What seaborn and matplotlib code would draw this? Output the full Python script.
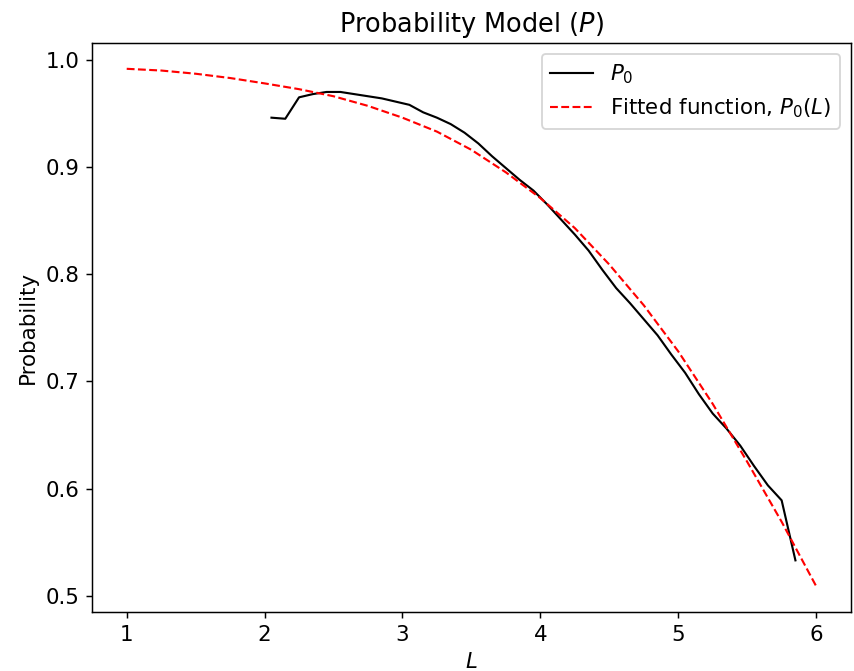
import numpy as np
import pandas as pd
import matplotlib
matplotlib.use("Agg")
import matplotlib.pyplot as plt
import seaborn as sns

L_obs = [2.05, 2.15, 2.25, 2.35, 2.45, 2.55, 2.65, 2.75, 2.85, 2.95,
         3.05, 3.15, 3.25, 3.35, 3.45, 3.55, 3.65, 3.75, 3.85, 3.95,
         4.05, 4.15, 4.25, 4.35, 4.45, 4.55, 4.65, 4.75, 4.85, 4.95,
         5.05, 5.15, 5.25, 5.35, 5.45, 5.55, 5.65, 5.75, 5.85]
P_obs = [0.946, 0.945, 0.965, 0.968, 0.970, 0.970, 0.968, 0.966, 0.964, 0.961,
         0.958, 0.951, 0.946, 0.940, 0.932, 0.922, 0.910, 0.899, 0.888, 0.878,
         0.865, 0.851, 0.837, 0.822, 0.804, 0.787, 0.773, 0.758, 0.743, 0.725,
         0.708, 0.688, 0.670, 0.656, 0.640, 0.621, 0.603, 0.589, 0.533]

# fitted curve samples
L_fit = [1.00, 1.25, 1.50, 1.75, 2.00, 2.25, 2.50, 2.75, 3.00, 3.25, 3.50,
         3.75, 4.00, 4.25, 4.50, 4.75, 5.00, 5.25, 5.50, 5.75, 6.00]
P_fit = [0.9916, 0.990, 0.987, 0.983, 0.978, 0.9726, 0.966, 0.957, 0.946, 0.933,
         0.916, 0.895, 0.871, 0.843, 0.809, 0.771, 0.728, 0.679, 0.625, 0.569, 0.509]

obs = pd.DataFrame({"L": L_obs, "P": P_obs})
fit = pd.DataFrame({"L": L_fit, "P": P_fit})

plt.rcParams["font.size"] = 11.6

fig = plt.figure(figsize=(854 / 133, 671 / 133), dpi=133)
ax = fig.add_axes([0.108, 0.088, 0.888, 0.848])

sns.lineplot(data=obs, x="L", y="P", color="black", linewidth=1.15,
             label="$P_0$", ax=ax)
sns.lineplot(data=fit, x="L", y="P", color="red", linewidth=1.15,
             linestyle="--", label="Fitted function, $P_0(L)$", ax=ax)

ax.set_title("Probability Model ($P$)", fontsize=13.9)
ax.set_xlabel("$L$")
ax.set_ylabel("Probability")
ax.legend(loc="upper right")

fig.savefig("out.png", dpi=133)
plt.close()
